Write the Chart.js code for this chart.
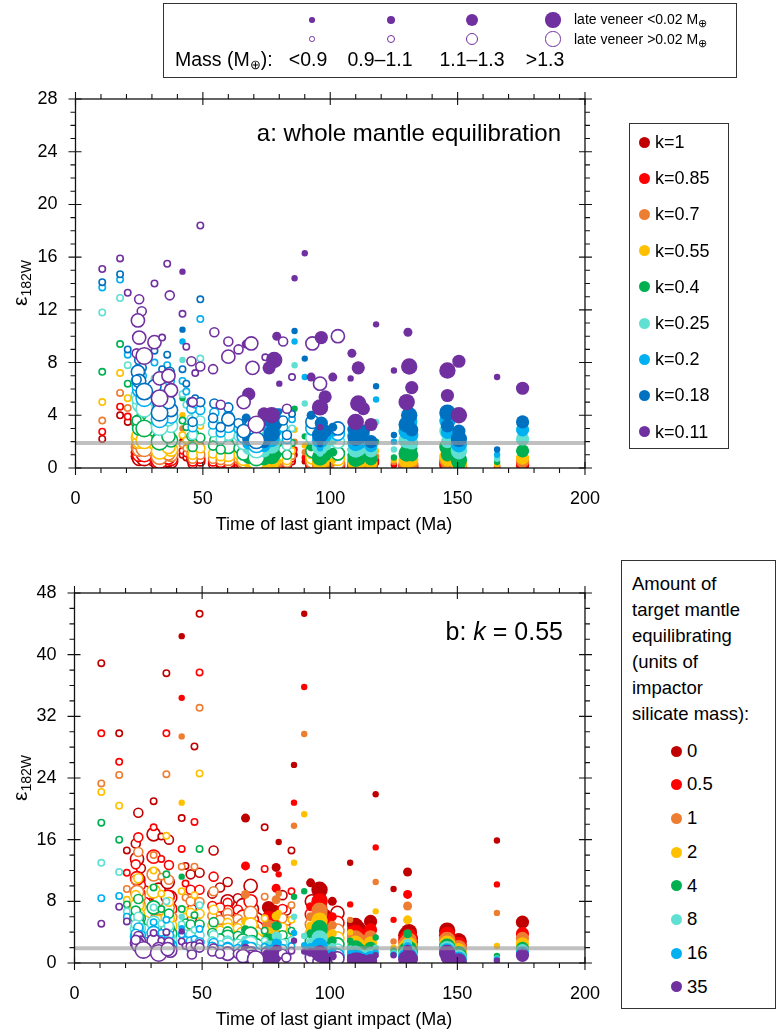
<!DOCTYPE html>
<html lang="en">
<head>
<meta charset="UTF-8">
<title>ε182W vs time of last giant impact</title>
<script src="https://cdn.jsdelivr.net/npm/chart.js"></script>
<style>
  html, body { margin: 0; padding: 0; background: #fff; }
  body { width: 781px; height: 1035px; position: relative; overflow: hidden;
         font-family: 'Liberation Sans', Arial, sans-serif; color: #000; }
  canvas { position: absolute; left: 0; }
  .box { position: absolute; border: 1.5px solid #333; box-sizing: border-box; }
  .abs { position: absolute; white-space: nowrap; line-height: 1; }
  .dot { position: absolute; border-radius: 50%; box-sizing: border-box; }
  .ytitle { position: absolute; transform: translate(-50%, -50%) rotate(-90deg); font-size: 21px; white-space: nowrap; }
  .ytitle sub { font-size: 14px; vertical-align: -4px; }
  .xtitle { position: absolute; transform: translate(-50%, -50%); font-size: 18px; white-space: nowrap; }
  sub.m { font-size: 11px; vertical-align: -3px; }
</style>
</head>
<body>
<canvas id="chartA" width="620" height="540" style="top:0"></canvas>
<canvas id="chartB" width="620" height="495" style="top:540px"></canvas>

<div class="box" style="left:163px;top:3px;width:574px;height:75px"></div>
<div class="box" style="left:629px;top:123px;width:100px;height:326px"></div>
<div class="box" style="left:621px;top:560px;width:155px;height:449px"></div>

<div class="abs" style="right:220px;top:121px;font-size:24px">a: whole mantle equilibration</div>
<div class="abs" style="right:218px;top:619px;font-size:25px">b: <i>k</i> = 0.55</div>
<div class="ytitle" style="left:21px;top:283px">ε<sub>182W</sub></div>
<div class="ytitle" style="left:21px;top:778px">ε<sub>182W</sub></div>
<div class="xtitle" style="left:334px;top:524px">Time of last giant impact (Ma)</div>
<div class="xtitle" style="left:334px;top:1019px">Time of last giant impact (Ma)</div>

<script>
// simulations: time of last giant impact, mass class (1..4), late veneer >0.02 (1 = open marker)
const simTime = [10.5,17.5,20.5,25,26,24.5,25,24,31,31,
  34,33,36,37,37.5,42,42,43.5,45.5,47,
  49,49,54.5,54,60,60,64,67,69,69.5,
  68,74,74.5,78,76,79,81.5,80,86,85,
  90,93,96.5,103,92.5,96,96,101,108.5,108,
  111,111,116,118,125,130.5,131,132,146,150.5,
  165.5,175.5,
  27,33,36.5,46,57,66,71,77,83,96,98,110,113,130,146,150.5];
const simMass = [1,1,1,2,2,3,3,2,3,1,
  1,3,1,2,3,1,1,1,2,1,
  1,2,2,2,2,3,2,2,3,3,
  3,3,1,4,3,2,2,1,1,1,
  1,3,3,3,2,3,1,2,2,1,
  3,4,3,1,1,2,4,3,4,3,
  1,3,
  4,4,3,2,2,3,4,4,2,4,3,4,3,4,3,4];
const simOpen = [1,1,1,1,1,1,1,1,1,1,
  1,1,1,1,1,0,1,1,1,1,
  1,1,1,1,1,1,1,0,1,1,
  0,0,1,0,0,0,1,0,0,1,
  0,1,0,1,0,1,0,0,0,0,
  0,0,0,0,0,0,0,0,0,0,
  0,0,
  1,1,1,1,1,1,1,0,1,0,0,0,0,0,0,0];

// panel a: whole mantle equilibration, one array per k
const kLabels = ['k=1','k=0.85','k=0.7','k=0.55','k=0.4','k=0.25','k=0.2','k=0.18','k=0.11'];
const kColors = ['#C00000','#FF0000','#ED7D31','#FFC000','#00B050','#5FE0D2','#00B0F0','#0070C0','#7030A0'];
const eps_k100 = [2.2,4.0,3.5,1.6,1.2,0.9,0.7,1.0,0.6,1.4, 1.1,0.5,1.3,1.0,0.5,2.1,1.0,0.8,0.6,0.7,
  1.3,0.5,0.4,0.3,0.4,0.3,0.3,0.3,0.2,0.15, 0.1,0.1,0.4,0.15,0.2,0.3,0.3,0.4,1.0,0.5,
  0.5,0.2,0.15,0.2,0.3,0.1,0.1,0.2,0.15,0.3, 0.15,0.1,0.1,0.4,0.2,0.2,0.15,0.1,0.25,0.05, 0.05,0.2,
  0.8,0.4,0.6,0.3,0.3,0.2,0.1,0.1,0.2,0.1,0.15,0.1,0.15,0.1,0.1,0.05];
const eps_k085 = [2.75,4.65,3.9,2.0,1.5,1.2,1.0,1.3,0.9,1.8, 1.4,0.7,1.7,1.3,0.7,2.5,1.3,1.1,0.8,0.9,
  1.7,0.7,0.6,0.5,0.6,0.5,0.5,0.4,0.3,0.25, 0.2,0.15,0.5,0.25,0.3,0.4,0.4,0.6,1.4,0.7,
  0.8,0.3,0.25,0.3,0.45,0.2,0.15,0.3,0.25,0.4, 0.25,0.2,0.15,0.6,0.3,0.35,0.3,0.2,0.4,0.1, 0.1,0.3,
  1.1,0.6,0.8,0.5,0.4,0.3,0.2,0.2,0.3,0.15,0.25,0.15,0.25,0.2,0.2,0.1];
const eps_k070 = [3.6,5.7,4.55,2.6,2.0,1.6,1.4,1.8,1.3,2.4, 1.9,1.0,2.3,1.8,1.0,3.0,1.8,1.5,1.1,1.3,
  2.3,1.0,0.9,0.7,0.9,0.7,0.7,0.6,0.5,0.4, 0.3,0.25,0.7,0.4,0.5,0.6,0.6,0.8,2.0,0.9,
  1.2,0.5,0.4,0.4,0.65,0.3,0.25,0.45,0.4,0.6, 0.4,0.3,0.25,0.9,0.45,0.5,0.5,0.35,0.6,0.15, 0.2,0.5,
  1.5,0.9,1.1,0.7,0.6,0.5,0.3,0.3,0.4,0.25,0.35,0.25,0.4,0.35,0.35,0.2];
const eps_k055 = [5.0,7.2,5.3,3.4,2.8,2.3,2.0,2.5,1.9,3.2, 2.6,1.5,3.1,2.5,1.4,4.0,2.5,2.1,1.6,1.8,
  3.2,1.5,1.3,1.1,1.3,1.0,1.0,0.9,0.8,0.6, 0.5,0.4,1.0,0.7,0.8,1.0,0.9,1.2,2.9,1.3,
  1.7,0.8,0.7,0.7,1.0,0.5,0.4,0.7,0.6,0.9, 0.6,0.5,0.4,1.3,0.6,0.8,0.9,0.6,0.85,0.2, 0.3,0.75,
  2.1,1.3,1.6,1.0,0.9,0.7,0.5,0.5,0.6,0.45,0.6,0.4,0.6,0.6,0.6,0.35];
const eps_k040 = [7.3,9.4,6.4,4.6,4.0,3.5,3.0,3.6,2.9,4.5, 3.7,2.3,4.4,3.6,2.1,5.3,3.6,3.1,2.4,2.6,
  4.9,2.3,2.1,1.7,2.0,1.6,1.5,1.5,1.3,1.0, 0.8,0.7,1.5,1.2,1.4,1.6,1.4,1.9,4.5,1.9,
  2.4,1.3,1.2,1.1,1.6,0.9,0.6,1.2,1.0,1.4, 1.0,0.8,0.7,2.0,0.8,1.3,1.5,1.0,1.6,0.3, 0.45,1.3,
  3.0,2.0,2.4,1.6,1.4,1.1,0.8,0.9,1.0,0.8,1.0,0.7,1.0,1.1,1.0,0.6];
const eps_k025 = [11.8,12.9,7.8,6.5,6.0,5.5,4.8,5.2,4.6,6.8, 5.7,3.6,6.6,5.6,3.2,8.2,5.6,4.8,3.7,4.0,
  8.3,3.6,3.4,2.7,3.2,2.6,2.4,2.6,2.2,1.8, 1.5,1.3,2.5,2.2,2.5,2.8,2.4,3.0,7.8,3.0,
  4.9,2.3,2.2,2.0,2.8,1.6,1.1,2.1,1.9,2.4, 1.9,1.5,1.3,3.5,1.4,2.3,2.7,1.9,2.8,1.15, 0.7,2.2,
  4.5,3.1,3.7,2.5,2.2,1.9,1.4,1.7,1.7,1.6,1.8,1.4,1.8,2.1,2.0,1.3];
const eps_k020 = [13.7,14.3,8.6,7.6,7.0,6.6,5.9,6.2,5.5,8.0, 6.8,4.3,7.8,6.6,3.9,9.6,6.6,5.8,4.5,4.8,
  11.3,4.4,4.2,3.3,4.0,3.2,3.0,3.3,2.8,2.3, 1.9,1.7,3.1,2.9,3.2,3.6,3.1,3.8,9.6,3.7,
  6.9,3.0,2.9,2.6,3.5,2.1,1.5,2.7,2.5,3.0, 2.5,2.0,1.7,5.2,2.0,3.0,3.5,2.5,3.6,2.0, 1.0,2.9,
  5.3,3.7,4.5,3.1,2.7,2.4,1.8,2.2,2.2,2.1,2.4,1.9,2.4,2.8,2.7,1.8];
const eps_k018 = [14.1,14.7,9.0,8.2,7.6,7.3,6.6,6.7,6.2,8.9, 7.5,4.9,8.6,7.3,4.4,10.5,7.5,6.4,5.0,5.3,
  12.8,5.0,4.9,3.8,4.6,3.7,3.4,3.8,3.2,2.7, 2.2,2.0,3.5,3.4,3.7,4.2,3.6,4.3,10.4,4.1,
  8.3,3.5,3.4,3.0,4.0,2.5,1.8,3.1,2.9,3.5, 2.9,2.4,2.0,6.2,2.5,3.5,4.0,2.9,4.2,2.8, 1.4,3.5,
  5.8,4.2,5.0,3.5,3.1,2.8,2.1,2.6,2.5,2.5,2.8,2.3,2.8,3.3,3.2,2.2];
const eps_k011 = [15.1,15.9,13.3,12.8,11.9,11.2,9.9,8.7,9.55,14.0, 9.9,6.8,15.5,13.1,5.9,14.9,11.7,9.2,8.1,7.2,
  18.4,7.7,10.3,7.5,9.6,8.45,9.0,9.4,9.45,7.6, 5.6,4.1,8.4,8.2,7.6,10.0,9.6,6.4,14.4,6.9,
  16.3,9.45,9.9,10.0,6.9,6.4,3.1,6.9,8.7,6.8, 7.6,4.9,3.3,10.9,7.4,10.3,7.7,6.1,7.4,8.1, 6.9,6.05,
  8.5,5.3,7.0,5.0,4.8,5.0,3.3,4.0,4.5,4.6,5.4,3.5,4.5,5.0,5.5,4.0];

// panel b: k = 0.55, one array per amount of target mantle equilibrating
const amtLabels = ['0','0.5','1','2','4','8','16','35'];
const amtColors = ['#C00000','#FF0000','#ED7D31','#FFC000','#00B050','#5FE0D2','#00B0F0','#7030A0'];
const eps_m0 = [38.9,29.8,14.6,19.5,12.3,13.5,10.8,15.5,16.7,21.0, 16.4,9.5,37.6,16.0,8.5,42.4,18.8,12.6,11.5,28.1,
  45.3,11.7,14.6,9.0,10.5,8.0,8.4,18.8,10.0,7.0, 6.0,5.2,17.6,6.5,7.2,12.4,8.8,15.7,25.7,14.6,
  45.3,8.0,8.2,6.5,10.4,4.5,6.8,8.0,5.2,13.0, 3.9,4.4,5.4,21.9,9.6,11.8,4.0,3.2,4.2,3.0, 15.9,5.3,
  9.0,7.8,10.5,7.0,9.8,7.5,5.5,4.5,6.8,9.5,6.2,4.8,3.5,3.6,3.6,2.8];
const eps_m05 = [29.8,26.1,11.7,16.3,10.1,11.0,9.0,12.8,13.8,17.6, 13.5,7.9,29.8,12.7,7.0,34.4,14.8,10.3,9.5,18.3,
  37.7,9.5,11.2,7.4,7.8,6.6,6.9,12.6,8.0,5.6, 4.8,4.2,12.2,5.3,5.9,9.7,7.0,11.5,20.8,9.3,
  35.8,6.3,7.1,5.2,7.3,3.6,5.0,6.0,4.2,7.6, 3.2,3.6,4.3,15.0,5.6,8.9,3.4,2.7,3.6,2.5, 10.2,3.8,
  7.5,6.4,8.6,5.8,7.2,6.0,4.4,3.7,5.4,8.0,5.0,3.9,2.9,3.0,3.1,2.3];
const eps_m1 = [23.3,24.4,9.6,14.4,8.5,9.2,7.6,10.8,11.5,14.0, 11.2,6.6,24.5,10.8,5.9,29.4,12.5,8.5,8.0,12.5,
  33.1,7.9,9.3,6.1,6.5,5.4,5.7,8.9,6.5,4.6, 3.9,3.4,8.6,4.4,4.8,8.2,5.8,9.0,17.8,7.5,
  29.7,5.0,6.3,4.2,6.0,2.9,3.8,4.9,3.4,5.6, 2.6,2.9,3.4,10.5,2.8,7.4,2.9,2.2,3.0,2.1, 6.5,3.2,
  6.3,5.3,7.2,4.8,5.6,4.9,3.6,3.0,4.4,6.8,4.1,3.2,2.4,2.5,2.6,1.9];
const eps_m2 = [22.2,20.4,8.2,11.0,7.2,7.5,6.2,8.8,9.3,12.0, 9.0,5.3,16.5,7.95,4.8,20.8,9.3,6.8,6.5,8.8,
  24.6,6.4,6.9,4.9,5.2,4.3,4.5,5.4,5.0,3.6, 3.0,2.7,5.8,3.5,3.8,6.1,4.6,6.5,13.0,5.6,
  19.3,3.8,5.0,3.2,4.8,2.2,2.8,3.8,2.6,4.0, 2.0,2.2,2.6,6.7,2.0,5.6,2.3,1.8,2.5,1.7, 2.2,2.5,
  5.1,4.2,5.8,3.9,4.2,3.8,2.8,2.4,3.4,5.5,3.2,2.5,1.9,2.0,2.1,1.5];
const eps_m4 = [18.2,16.0,7.6,8.3,5.8,5.9,4.9,6.8,7.2,9.8, 7.0,4.2,11.5,6.4,3.8,11.2,7.0,5.3,5.0,6.2,
  14.8,5.0,5.3,3.9,4.1,3.4,3.5,4.3,3.8,2.7, 2.3,2.0,4.2,2.7,3.0,4.8,3.6,4.8,8.6,4.2,
  9.3,2.8,4.2,2.4,3.8,1.6,2.0,2.9,1.9,2.9, 1.5,1.6,1.9,3.3,1.6,3.8,1.8,1.4,2.1,1.3, 0.9,1.9,
  4.0,3.3,4.5,3.0,3.2,2.9,2.1,1.8,2.6,4.5,2.5,1.9,1.4,1.6,1.7,1.1];
const eps_m8 = [13.0,11.8,6.7,6.0,4.5,4.4,3.8,5.0,5.2,7.2, 5.1,3.2,8.0,4.8,2.9,6.0,5.0,3.9,3.7,4.3,
  7.5,3.6,3.6,2.8,2.9,2.4,2.5,3.0,2.6,1.8, 1.5,1.3,2.9,1.9,2.1,3.5,2.5,3.5,6.0,3.0,
  3.5,1.8,3.0,1.6,2.7,1.0,1.3,2.0,1.3,1.9, 1.0,1.0,1.2,2.0,1.3,2.6,1.3,1.0,1.8,0.9, 0.6,1.6,
  3.0,2.4,3.3,2.2,2.3,2.0,1.4,1.2,1.8,3.2,1.7,1.2,0.9,1.1,1.3,0.7];
const eps_m16 = [8.4,8.7,6.0,4.6,3.6,3.4,3.0,3.8,3.9,5.3, 3.9,2.5,5.6,3.6,2.2,4.5,3.7,3.0,2.8,3.1,
  4.4,2.7,2.6,2.1,2.1,1.7,1.8,2.4,1.8,1.2, 1.0,0.9,2.1,1.4,1.5,2.6,1.8,2.6,3.9,2.2,
  2.3,1.2,2.2,1.0,2.0,0.6,0.9,1.4,0.9,1.3, 0.6,0.6,0.7,1.4,1.1,2.1,0.9,0.7,1.5,0.6, 0.45,1.3,
  2.3,1.8,2.5,1.6,1.7,1.4,0.9,0.8,1.2,2.2,1.1,0.7,0.5,0.8,1.0,0.4];
const eps_m35 = [5.1,7.3,5.4,3.5,2.9,2.6,2.3,3.0,2.9,3.9, 2.9,1.8,4.0,2.7,1.6,4.1,2.8,2.2,2.1,2.3,
  2.6,2.0,1.9,1.5,1.5,1.2,1.2,1.9,1.2,0.8, 0.6,0.5,1.5,0.9,1.0,1.8,1.2,1.9,2.9,1.6,
  1.5,0.7,1.4,0.6,1.4,0.2,0.5,0.9,0.5,0.8, 0.3,0.3,0.3,1.0,1.0,1.8,0.7,0.5,1.3,0.3, 0.3,1.0,
  1.7,1.3,1.8,1.1,1.2,0.9,0.5,0.4,0.7,1.2,0.6,0.3,0.3,0.5,0.7,0.2];

const bseValue = 1.9;           // grey reference line
const massRadius = [3.2, 4.5, 6.6, 8.2];
const legendRadius = [2.8, 4.1, 6.1, 7.6];
const massLabels = ['<0.9', '0.9–1.1', '1.1–1.3', '>1.3'];
const xTicks = [0, 200, 50];    // min, max, labelled step

Chart.defaults.font.family = "'Liberation Sans', Arial, sans-serif";
Chart.defaults.color = '#000';

// box round the plot plus tick marks on all four sides
const frameTicks = {
  id: 'frameTicks',
  afterDatasetsDraw(chart, args, opts) {
    const { ctx, chartArea: a, scales: { x, y } } = chart;
    ctx.save();
    ctx.strokeStyle = '#111';
    ctx.lineWidth = 1.3;
    ctx.strokeRect(a.left, a.top, a.right - a.left, a.bottom - a.top);
    ctx.lineWidth = 1.1;
    ctx.beginPath();
    for (let v = xTicks[0]; v <= xTicks[1]; v += 10) {
      const p = x.getPixelForValue(v);
      const major = v % xTicks[2] === 0;
      const out = major ? 7 : 5, inn = major ? 6 : 0;
      ctx.moveTo(p, a.bottom + out); ctx.lineTo(p, a.bottom - inn);
      ctx.moveTo(p, a.top - out); ctx.lineTo(p, a.top + inn);
    }
    for (let v = 0; v <= opts.yMax; v += opts.yMinor) {
      const p = y.getPixelForValue(v);
      const major = v % opts.yMajor === 0;
      const out = major ? 7 : 5, inn = major ? 6 : 0;
      ctx.moveTo(a.left - out, p); ctx.lineTo(a.left + inn, p);
      ctx.moveTo(a.right + out, p); ctx.lineTo(a.right - inn, p);
    }
    ctx.stroke();
    ctx.restore();
  }
};

function seriesSet(values, colors, labels) {
  const sets = values.map((vals, j) => ({
    type: 'scatter',
    label: labels[j],
    data: simTime.map((t, i) => ({ x: t, y: vals[i] })),
    order: values.length - j,
    pointRadius: c => massRadius[simMass[c.dataIndex] - 1],
    pointBackgroundColor: c => simOpen[c.dataIndex] ? '#fff' : colors[j],
    pointBorderColor: colors[j],
    pointBorderWidth: c => simOpen[c.dataIndex] ? 1.6 : 0
  }));
  sets.push({
    type: 'line',
    data: [{ x: xTicks[0], y: bseValue }, { x: xTicks[1], y: bseValue }],
    borderColor: 'rgba(150,150,150,0.6)',
    borderWidth: 4,
    pointRadius: 0,
    order: 0
  });
  return sets;
}

function makeChart(id, values, colors, labels, yMax, yMajor, yMinor, padTop, yWidth) {
  new Chart(document.getElementById(id), {
    data: { datasets: seriesSet(values, colors, labels) },
    options: {
      responsive: false,
      animation: false,
      events: [],
      layout: { padding: { top: padTop, right: 29, left: 0, bottom: 0 } },
      plugins: { legend: { display: false }, tooltip: { enabled: false }, frameTicks: { yMax, yMajor, yMinor } },
      scales: {
        x: {
          type: 'linear', min: xTicks[0], max: xTicks[1],
          ticks: { stepSize: xTicks[2], padding: 20, font: { size: 18 } },
          grid: { display: false, drawTicks: false },
          border: { display: false },
          afterFit: s => { s.height = 72; }
        },
        y: {
          type: 'linear', min: 0, max: yMax,
          ticks: { stepSize: yMajor, padding: 18, font: { size: 18 } },
          grid: { display: false, drawTicks: false },
          border: { display: false },
          afterFit: s => { s.width = yWidth; }
        }
      }
    },
    plugins: [frameTicks]
  });
}

makeChart('chartA', [eps_k100, eps_k085, eps_k070, eps_k055, eps_k040, eps_k025, eps_k020, eps_k018, eps_k011],
  kColors, kLabels, 28, 4, 1, 99, 75.5);
makeChart('chartB', [eps_m0, eps_m05, eps_m1, eps_m2, eps_m4, eps_m8, eps_m16, eps_m35],
  amtColors, amtLabels, 48, 8, 2, 53, 74.5);

// legends (HTML)
function dot(parent, cx, cy, r, color, open) {
  const d = document.createElement('div');
  d.className = 'dot';
  d.style.left = (cx - r) + 'px';
  d.style.top = (cy - r) + 'px';
  d.style.width = d.style.height = (2 * r) + 'px';
  if (open) { d.style.border = '1.6px solid ' + color; d.style.background = '#fff'; }
  else d.style.background = color;
  parent.appendChild(d);
}
function text(parent, html, left, cy, size, extra) {
  const t = document.createElement('div');
  t.className = 'abs';
  t.innerHTML = html;
  t.style.fontSize = size + 'px';
  t.style.left = left + 'px';
  t.style.top = (cy - size / 2) + 'px';
  if (extra) Object.assign(t.style, extra);
  parent.appendChild(t);
}

const body = document.body;
const massDotX = [312, 391, 472, 553];
const massTextX = [308, 380, 472, 545];
massDotX.forEach((x, i) => {
  dot(body, x, 20, legendRadius[i], '#7030A0', false);
  dot(body, x, 39, legendRadius[i], '#7030A0', true);
  text(body, massLabels[i], massTextX[i], 60, 19.5, { transform: 'translateX(-50%)' });
});
text(body, 'late veneer &lt;0.02 M<sub class="m">⊕</sub>', 574, 19, 14);
text(body, 'late veneer &gt;0.02 M<sub class="m">⊕</sub>', 574, 39, 14);
text(body, 'Mass (M<sub class="m" style="font-size:13px">⊕</sub>):', 175, 60, 19.5);

kLabels.forEach((lab, i) => {
  const cy = 142 + 36.2 * i;
  dot(body, 644, cy, 5.5, kColors[i], false);
  text(body, lab, 655, cy, 18);
});

['Amount of', 'target mantle', 'equilibrating', '(units of', 'impactor', 'silicate mass):'].forEach((l, i) => {
  text(body, l, 632, 584 + 26 * i, 18.5);
});
amtLabels.forEach((lab, i) => {
  const cy = 751 + 33.7 * i;
  dot(body, 676, cy, 5.5, amtColors[i], false);
  text(body, lab, 687, cy, 18.5);
});
</script>
</body>
</html>
